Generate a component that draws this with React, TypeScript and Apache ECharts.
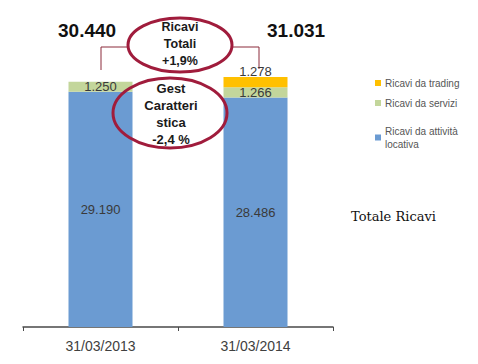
import React, { useEffect, useRef } from "react";
import * as echarts from "echarts";

const categories = ["31/03/2013", "31/03/2014"];
const seriesNames = ["Ricavi da attività locativa", "Ricavi da servizi", "Ricavi da trading"];
const locativa = [29190, 28486];
const servizi = [1250, 1266];
const trading: (number | null)[] = [null, 1278];
const totals = ["30.440", "31.031"];
const noteTotali = ["Ricavi", "Totali", "+1,9%"];
const noteGest = ["Gest", "Caratteri", "stica", "-2,4 %"];
const sideNote = "Totale Ricavi";

const colors = ["#6b9bd2", "#c3d69b", "#ffc000"];

function fmt(v: number) {
  return String(v).replace(/\B(?=(\d{3})+(?!\d))/g, ".");
}

export default function App() {
  const ref = useRef<HTMLDivElement>(null);
  useEffect(() => {
    if (!ref.current) return;
    const chart = echarts.init(ref.current, undefined, { renderer: "svg" });
    const labelBase = {
      show: true,
      fontFamily: "Liberation Sans",
      fontSize: 13,
      color: "#3a3a3a",
      formatter: (p: any) => fmt(p.value),
    };
    const red = "#a01c3c";
    chart.setOption({
      animation: false,
      backgroundColor: "#ffffff",
      grid: { left: 23, right: 145, top: 45, bottom: 37 },
      xAxis: {
        type: "category",
        data: categories,
        axisLine: { lineStyle: { color: "#4a4a4a", width: 1.5 } },
        axisTick: { show: true, length: 4, lineStyle: { color: "#4a4a4a" } },
        axisLabel: { fontFamily: "Liberation Sans", fontSize: 14, color: "#404040", margin: 12 },
      },
      yAxis: { type: "value", min: 0, max: 35000, show: false },
      legend: {
        orient: "vertical",
        left: 370,
        top: 73,
        itemGap: 10,
        itemWidth: 6,
        itemHeight: 6,
        icon: "rect",
        textStyle: { fontFamily: "Liberation Sans", fontSize: 10, color: "#555555", padding: [0, 0, 0, -1] },
        formatter: (n: string) => (n === seriesNames[0] ? "Ricavi da attività\nlocativa" : n),
        data: [
          { name: seriesNames[2] },
          { name: seriesNames[1] },
          { name: seriesNames[0], textStyle: { lineHeight: 13, padding: [13, 0, 0, -1] } },
        ],
      },
      series: [
        {
          name: seriesNames[0],
          type: "bar",
          stack: "a",
          barWidth: 64,
          data: locativa,
          itemStyle: { color: colors[0] },
          label: { ...labelBase, position: "inside" },
        },
        {
          name: seriesNames[1],
          type: "bar",
          stack: "a",
          barWidth: 64,
          data: servizi,
          itemStyle: { color: colors[1] },
          label: { ...labelBase, position: "inside" },
        },
        {
          name: seriesNames[2],
          type: "bar",
          stack: "a",
          barWidth: 64,
          data: trading,
          itemStyle: { color: colors[2] },
          label: { ...labelBase, position: "top", distance: -1 },
        },
      ],
      graphic: [
        {
          type: "text",
          left: 58,
          top: 21,
          style: { text: totals[0], fontFamily: "Liberation Sans", fontWeight: "bold", fontSize: 19, fill: "#111" },
        },
        {
          type: "text",
          left: 267,
          top: 21,
          style: { text: totals[1], fontFamily: "Liberation Sans", fontWeight: "bold", fontSize: 19, fill: "#111" },
        },
        {
          type: "polyline",
          shape: { points: [[101, 70], [101, 47], [128, 47]] },
          style: { stroke: "#8b2a3a", lineWidth: 1, fill: "none" },
        },
        {
          type: "polyline",
          shape: { points: [[231, 47], [259, 47], [259, 69]] },
          style: { stroke: "#8b2a3a", lineWidth: 1, fill: "none" },
        },
        {
          type: "ellipse",
          shape: { cx: 180, cy: 45, rx: 52, ry: 27 },
          style: { stroke: red, lineWidth: 3, fill: "none" },
          z: 10,
        },
        {
          type: "text",
          x: 180,
          y: 44,
          z: 11,
          style: {
            text: noteTotali.join("\n"),
            align: "center",
            verticalAlign: "middle",
            lineHeight: 17,
            fontFamily: "Liberation Sans",
            fontWeight: "bold",
            fontSize: 12.5,
            fill: "#1a1a1a",
          },
        },
        {
          type: "ellipse",
          shape: { cx: 170, cy: 113, rx: 57, ry: 35 },
          style: { stroke: red, lineWidth: 3, fill: "none" },
          z: 10,
        },
        {
          type: "text",
          x: 171,
          y: 114,
          z: 11,
          style: {
            text: noteGest.join("\n"),
            align: "center",
            verticalAlign: "middle",
            lineHeight: 17,
            fontFamily: "Liberation Sans",
            fontWeight: "bold",
            fontSize: 13,
            fill: "#1a1a1a",
          },
        },
        {
          type: "text",
          left: 351,
          top: 210,
          style: { text: sideNote, fontFamily: "DejaVu Serif", fontSize: 13, fill: "#111" },
        },
      ],
    });
    return () => chart.dispose();
  }, []);
  return <div ref={ref} style={{ width: 478, height: 364, position: "absolute", left: 0, top: 0 }} />;
}
